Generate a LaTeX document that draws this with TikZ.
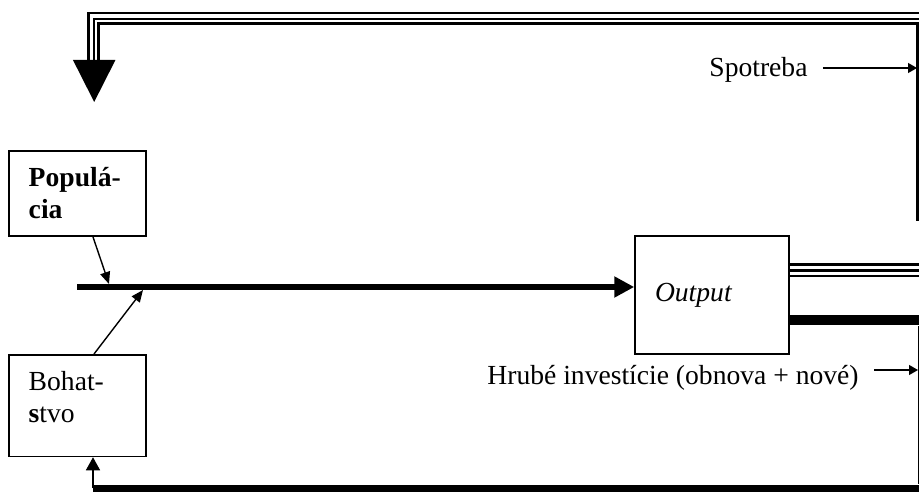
\documentclass[tikz,border=0pt]{standalone}
\usepackage{fontspec}
\setmainfont{Liberation Serif}
\usetikzlibrary{arrows.meta}

\tikzset{
  every node/.style={font=\fontsize{13.8}{16}\selectfont},
  box/.style={draw,line width=0.75pt,align=left,text width=48.5pt,
    inner xsep=10pt,inner ysep=8.5pt,anchor=north west},
  outbox/.style={draw,line width=0.75pt,align=left,text width=57pt,
    inner xsep=10pt,minimum height=59pt},
  lbl/.style={inner xsep=7.5pt,inner ysep=0pt,anchor=base west},
  feed/.style={line width=0.7pt,-{Triangle[length=6pt,width=5pt]}},
  side/.style={line width=0.6pt,-{Triangle[length=4.5pt,width=5pt]}},
  flow/.style={line width=3.25pt,-{Triangle[length=10pt,width=10pt]}}
}

\begin{document}
\begin{tikzpicture}[x=0.5pt,y=-0.5pt]
  \useasboundingbox (0,0) rectangle (919,492);

  \node[box] (pop) at (8,150) {\textbf{Populá-}\\\textbf{cia}};
  \node[box] (boh) at (8,354) {Bohat-\\\textbf{s}tvo\rule[-8.3pt]{0pt}{0pt}};
  \node[outbox] (out) at (712,295) {\textit{Output}};
  \node[lbl] (spot) at (694,76) {Spotreba};
  \node[lbl] (hrube) at (472,384) {Hrubé investície (obnova + nové)};

  \coordinate (in) at (77,287);
  \coordinate (jp) at (109,284);
  \coordinate (jb) at (143,290);
  \coordinate (sp) at (917,68);
  \coordinate (hr) at (918,370);
  \coordinate (bl) at (93,488);
  \coordinate (br) at (925,488);

  % input line and the two feeds
  \draw[flow] (in) -- ([yshift=4pt]out.west);
  \draw[feed] ([xshift=42.5pt]pop.south west) -- (jp);
  \draw[feed] ([xshift=43pt]boh.north west) -- (jb);

  % output split
  \foreach \d/\w in {15.25/1.35pt,12.35/1.35pt,9.4/1.2pt}
    \draw[line width=\w] ([yshift=\d pt]out.east) -- ++(140,0);
  \draw[line width=5.25pt] ([yshift=-12.5pt]out.east) -- ++(140,0);

  % right side
  \draw[line width=1.6pt] (917.5,23) -- (917.5,221);
  \draw[line width=0.6pt] (918.5,326) -- (918.5,484);
  \draw[side] (spot.east |- sp) -- (sp);
  \draw[side] (hrube.east |- hr) -- (hr);

  % loop back to the population
  \draw[line width=1.2pt] (925,13) -- (88.3,13) -- (88.3,60);
  \draw[line width=1pt,-{Triangle[length=21pt,width=21pt]}]
    (925,19.3) -- (94.2,19.3) -- (94.2,102);
  \draw[line width=1.35pt] (925,23.7) -- (98.7,23.7) -- (98.7,60);

  % loop back to the wealth
  \draw[line width=3.5pt] (bl) -- (br);
  \draw[feed,-{Triangle[length=6.5pt,width=7pt]}] (bl) -- (bl |- boh.south);
\end{tikzpicture}
\end{document}
